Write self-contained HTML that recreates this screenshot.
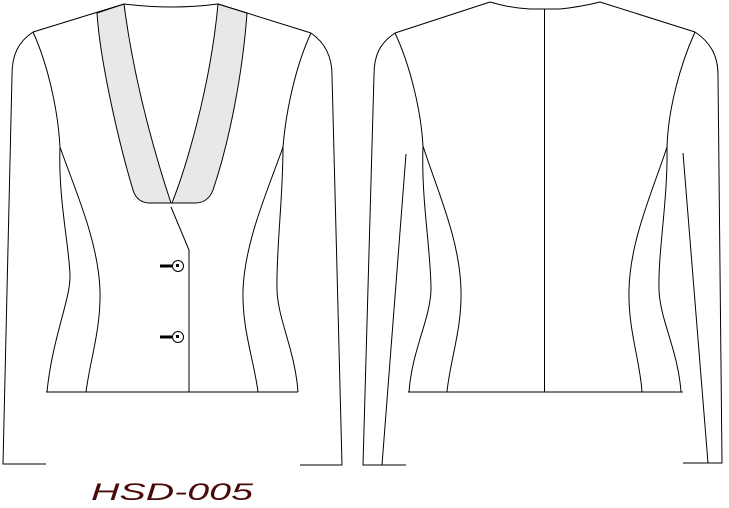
<!DOCTYPE html>
<html><head><meta charset="utf-8"><style>
html,body{margin:0;padding:0;background:#fff;width:729px;height:508px;overflow:hidden}
svg{display:block}
</style></head><body>
<svg width="729" height="508" viewBox="0 0 729 508" xmlns="http://www.w3.org/2000/svg">
<g fill="none" stroke="#000" stroke-width="1">
  <path d="M97,13 C100,60 118,140 133,190 Q137,203 150,203 L171,203 C160,170 135,90 124,4 Z" fill="#e8e8e8"/>
  <path d="M247,13 C243,70 230,140 213,190 Q208,203 195,203 L172,203 C185,170 210,90 218,4 Z" fill="#e8e8e8"/>
  <path d="M124,4 Q150,7 172,7 Q195,7 218,4"/>
  <path d="M33,32 L124,4"/>
  <path d="M218,4 L311,33"/>
  <path d="M33,32 C18,42 12,55 12,75 L3,464 L46,464"/>
  <path d="M311,33 C324,42 332,55 332,75 L342,465 L300,465"/>
  <path d="M33,32 C48,65 58,110 60,147 C58,200 70,250 70,277 C70,300 52,340 47,392"/>
  <path d="M60,147 C75,190 98,240 100,290 C101,330 90,360 86,392"/>
  <path d="M311,33 C296,65 286,110 283,147 C283,200 276,250 277,290 C278,320 295,350 298,392"/>
  <path d="M283,147 C268,190 245,240 243,290 C242,330 254,360 258,392"/>
  <path d="M46,392 L298,392"/>
  <path d="M171,207 L189,250 L189,392"/>
  <g>
    <line x1="160" y1="266" x2="172" y2="266" stroke-width="3"/>
    <circle cx="178" cy="266" r="5.5" fill="#fff"/>
    <rect x="176" y="264" width="3" height="3" fill="#000" stroke="none"/>
  </g>
  <g>
    <line x1="160" y1="337" x2="172" y2="337" stroke-width="3"/>
    <circle cx="178" cy="337" r="5.5" fill="#fff"/>
    <rect x="176" y="335" width="3" height="3" fill="#000" stroke="none"/>
  </g>
</g>
<g fill="none" stroke="#000" stroke-width="1">
  <path d="M490,2 Q510,8 530,9 L560,9 Q580,7 600,2"/>
  <path d="M490,2 L395,33"/>
  <path d="M600,2 L695,32"/>
  <path d="M544.5,9 L544.5,392"/>
  <path d="M395,33 C380,43 374,55 374,75 L363,465 L406,465"/>
  <path d="M406,154 L382,465"/>
  <path d="M695,32 C710,42 718,55 718,75 L722,463 L683,463"/>
  <path d="M683,153 L708,463"/>
  <path d="M395,33 C410,65 421,110 423,146 C421,200 431,250 431,290 C430,320 412,350 409,392"/>
  <path d="M423,146 C437,190 460,240 461,290 C462,330 450,360 447,392"/>
  <path d="M695,32 C680,65 668,110 667,147 C668,200 658,250 659,290 C660,320 678,350 681,392"/>
  <path d="M667,147 C653,190 630,240 629,290 C628,330 640,360 642,392"/>
  <path d="M408,392 L683,392"/>
</g>
<text x="91" y="500" font-family="Liberation Sans, sans-serif" font-style="italic" font-size="24" fill="#4a0a0a" textLength="162" lengthAdjust="spacingAndGlyphs">HSD-005</text>
</svg>
</body></html>
